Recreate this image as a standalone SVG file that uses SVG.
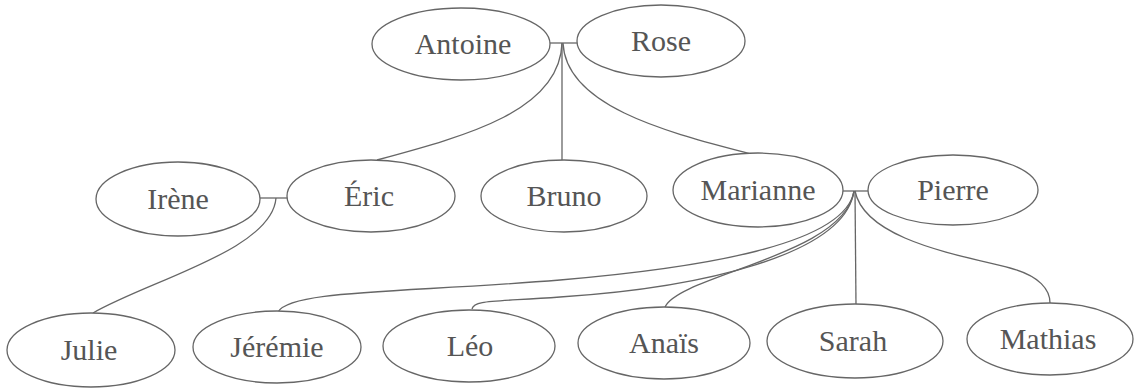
<svg xmlns="http://www.w3.org/2000/svg" width="1136" height="388" viewBox="0 0 1136 388">
<style>
ellipse{fill:#fff;stroke:#666;stroke-width:1.3}
text{font-family:"Liberation Serif",serif;font-size:30px;fill:#555;text-anchor:middle}
#connectors path,#connectors line{fill:none;stroke:#666;stroke-width:1.3}
</style>
<rect width="1136" height="388" fill="#fff"/>
<g id="connectors">
<line x1="550" y1="43" x2="577" y2="43"/>
<path d="M562,43 C560,110 470,135 377,160"/>
<line x1="562" y1="43" x2="562" y2="160"/>
<path d="M563,43 C566,110 680,135 755,155"/>
<line x1="260" y1="198" x2="288" y2="198"/>
<path d="M276,198 C272,250 150,280 93,313"/>
<line x1="843" y1="191" x2="868" y2="191"/>
<path d="M854,191 C845,245 700,268 560,280 C400,293 290,290 278,312"/>
<path d="M854,191 C845,255 700,288 560,297 C490,302 474,300 472,309"/>
<path d="M854,191 C845,255 680,275 665,307"/>
<line x1="855" y1="191" x2="856" y2="305"/>
<path d="M855,191 C865,240 960,255 1010,268 C1040,276 1050,290 1050,303"/>
</g>
<g id="antoine"><ellipse cx="461" cy="44" rx="89" ry="36"/><text x="463" y="54">Antoine</text></g>
<g id="rose"><ellipse cx="661" cy="41" rx="84" ry="36"/><text x="661" y="51">Rose</text></g>
<g id="irene"><ellipse cx="178" cy="199" rx="82" ry="37"/><text x="178" y="209">Irène</text></g>
<g id="eric"><ellipse cx="371" cy="196" rx="84" ry="36"/><text x="369" y="206">Éric</text></g>
<g id="bruno"><ellipse cx="564" cy="196" rx="83" ry="36"/><text x="564" y="206">Bruno</text></g>
<g id="marianne"><ellipse cx="758" cy="190" rx="85" ry="37"/><text x="758" y="200">Marianne</text></g>
<g id="pierre"><ellipse cx="953" cy="190" rx="85" ry="35"/><text x="953" y="200">Pierre</text></g>
<g id="julie"><ellipse cx="91" cy="350" rx="84" ry="37"/><text x="89" y="360">Julie</text></g>
<g id="jeremie"><ellipse cx="277" cy="347" rx="84" ry="36"/><text x="277" y="357">Jérémie</text></g>
<g id="leo"><ellipse cx="469" cy="346" rx="86" ry="36"/><text x="470" y="356">Léo</text></g>
<g id="anais"><ellipse cx="664" cy="343" rx="86" ry="36"/><text x="664" y="353">Anaïs</text></g>
<g id="sarah"><ellipse cx="855" cy="341" rx="88" ry="37"/><text x="853" y="351">Sarah</text></g>
<g id="mathias"><ellipse cx="1050" cy="339" rx="83" ry="36"/><text x="1048" y="349">Mathias</text></g>
</svg>
